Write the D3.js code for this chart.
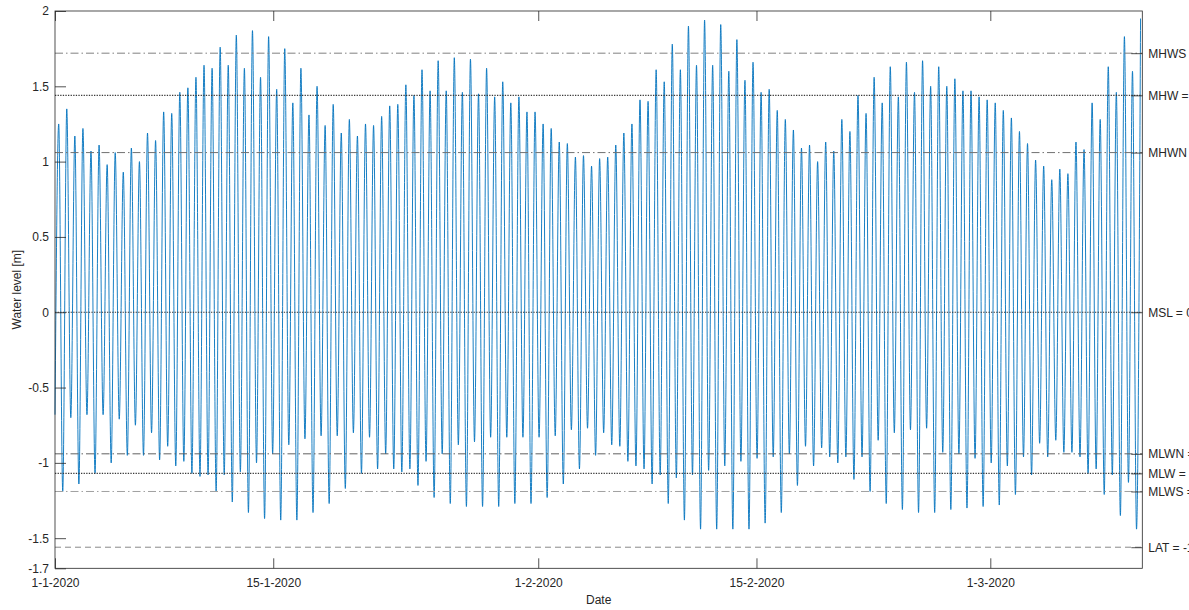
<!DOCTYPE html>
<html>
<head>
<meta charset="utf-8">
<script src="https://cdn.jsdelivr.net/npm/d3@7"></script>
<style>
    body { margin: 0; background: #fff; }
    svg { display: block; font-family: "Liberation Sans", Arial, Helvetica, sans-serif; }
</style>
</head>
<body>
<svg id="chart" width="1189" height="610"></svg>
<script>
// high waters, in order [m]
var highWater = [
    1.25, 1.35, 1.17, 1.22, 1.07, 1.11, 0.98, 1.06, 0.93, 1.09, 1.00, 1.19, 1.14, 1.33, 1.32, 1.46, 1.49,
    1.56, 1.64, 1.62, 1.76, 1.64, 1.84, 1.62, 1.87, 1.56, 1.83, 1.48, 1.75, 1.39, 1.62, 1.31, 1.50, 1.24,
    1.38, 1.19, 1.28, 1.17, 1.25, 1.24, 1.30, 1.37, 1.38, 1.51, 1.44, 1.61, 1.47, 1.67, 1.47, 1.69, 1.46,
    1.68, 1.45, 1.62, 1.43, 1.53, 1.39, 1.43, 1.33, 1.33, 1.25, 1.22, 1.13, 1.12, 1.03, 1.04, 0.97,
    1.02, 1.03, 1.11, 1.19, 1.25, 1.41, 1.40, 1.61, 1.53, 1.78, 1.61, 1.90, 1.64, 1.94, 1.64, 1.91, 1.60,
    1.81, 1.54, 1.66, 1.46, 1.48, 1.34, 1.28, 1.21, 1.09, 1.11, 1.00, 1.13, 1.07, 1.28, 1.20, 1.44,
    1.32, 1.56, 1.39, 1.63, 1.43, 1.66, 1.46, 1.67, 1.50, 1.63, 1.50, 1.55, 1.47, 1.47, 1.43, 1.41, 1.39,
    1.34, 1.29, 1.20, 1.12, 1.01, 0.97, 0.88, 0.95, 0.92, 1.13, 1.08, 1.39, 1.28, 1.63, 1.46, 1.83, 1.60, 1.95
];

// low waters: first value is the start of the record, then one after each high water [m]
var lowWater = [
    -0.68,
    -1.19, -0.70, -1.14, -0.68, -1.07, -0.68, -1.00, -0.71, -0.95, -0.75, -0.95, -0.80, -0.98, -0.89, -1.02, -0.99, -1.07,
    -1.09, -1.08, -1.19, -1.08, -1.26, -1.06, -1.33, -1.00, -1.37, -0.94, -1.38, -0.88, -1.38, -0.84, -1.33, -0.82, -1.27,
    -0.82, -1.17, -0.80, -1.07, -0.83, -1.04, -0.94, -1.04, -1.06, -1.04, -1.15, -0.99, -1.23, -0.94, -1.27, -0.88, -1.29,
    -0.86, -1.29, -0.83, -1.29, -0.83, -1.27, -0.83, -1.27, -0.83, -1.23, -0.82, -1.14, -0.78, -1.04, -0.77, -0.95,
    -0.80, -0.88, -0.89, -0.99, -1.02, -1.04, -1.14, -1.08, -1.27, -1.10, -1.38, -1.08, -1.44, -1.05, -1.44, -1.02, -1.44,
    -0.99, -1.44, -0.97, -1.40, -0.96, -1.33, -0.94, -1.15, -0.89, -1.02, -0.90, -0.96, -1.00, -0.96, -1.11, -0.96,
    -1.19, -0.85, -1.27, -0.80, -1.31, -0.78, -1.33, -0.77, -1.33, -0.93, -1.31, -0.94, -1.30, -0.97, -1.29, -1.00, -1.28,
    -1.02, -1.21, -0.96, -1.08, -0.87, -0.96, -0.85, -0.93, -0.93, -0.96, -1.07, -1.04, -1.21, -1.08, -1.35, -1.13, -1.44
];

var recordStart = new Date(2020, 0, 1);
var recordEnd = new Date(2020, 2, 10, 18);
var firstHighWaterHour = 5.7;
var tidalPeriodHours = 12.43;

// tidal reference levels [m]
var levelNames = ["MHWS", "MHW", "MHWN", "MSL", "MLWN", "MLW", "MLWS", "LAT"];
var levelValues = [1.72, 1.44, 1.06, 0.00, -0.94, -1.07, -1.19, -1.56];

var yTicks = [2, 1.5, 1, 0.5, 0, -0.5, -1, -1.5, -1.7];
var xTicks = [new Date(2020, 0, 1), new Date(2020, 0, 15), new Date(2020, 1, 1), new Date(2020, 1, 15), new Date(2020, 2, 1)];

var levelStyle = {
    MHWS: { dash: "8,3,1.5,3", color: "#808080", width: 1 },
    MHW:  { dash: "1.3,1.3",   color: "#3a3a3a", width: 1.2 },
    MHWN: { dash: "8,3,1.5,3", color: "#707070", width: 1 },
    MSL:  { dash: "1.3,1.3",   color: "#333",    width: 1.2 },
    MLWN: { dash: "8,3,1.5,3", color: "#606060", width: 1 },
    MLW:  { dash: "1.3,1.3",   color: "#3a3a3a", width: 1.2 },
    MLWS: { dash: "8,3,1.5,3", color: "#a0a0a0", width: 1 },
    LAT:  { dash: "6,4",       color: "#888",    width: 1 }
};

var plotLeft = 55, plotRight = 1142.3, plotTop = 11, plotBottom = 568.3;
var axisColor = "#262626";

var svg = d3.select("#chart");

var x = d3.scaleTime().domain([recordStart, recordEnd]).range([plotLeft, plotRight]);
var y = d3.scaleLinear().domain([-1.7, 2]).range([plotBottom, plotTop]);

// build the series: low, high, low, high ...
function hoursAfterStart(h) {
    return new Date(recordStart.getTime() + h * 3600 * 1000);
}
var tide = [{ t: recordStart, v: lowWater[0] }];
highWater.forEach(function (v, i) {
    var hwHour = firstHighWaterHour + i * tidalPeriodHours;
    tide.push({ t: hoursAfterStart(hwHour), v: v });
    if (i + 1 < lowWater.length) {
        tide.push({ t: hoursAfterStart(hwHour + tidalPeriodHours / 2), v: lowWater[i + 1] });
    }
});

var line = d3.line()
    .x(function (d) { return x(d.t); })
    .y(function (d) { return y(d.v); })
    .curve(d3.curveMonotoneX);

svg.append("path")
    .datum(tide)
    .attr("d", line)
    .attr("fill", "none")
    .attr("stroke", "#0072BD")
    .attr("stroke-width", 0.9);

// reference levels
svg.append("g").selectAll("line")
    .data(levelNames)
    .enter().append("line")
    .attr("x1", plotLeft)
    .attr("x2", plotRight)
    .attr("y1", function (d, i) { return y(levelValues[i]); })
    .attr("y2", function (d, i) { return y(levelValues[i]); })
    .attr("stroke", function (d) { return levelStyle[d].color; })
    .attr("stroke-dasharray", function (d) { return levelStyle[d].dash; })
    .attr("stroke-width", function (d) { return levelStyle[d].width; });

// axes, ticks pointing inwards
var fmtDate = d3.timeFormat("%-d-%-m-%Y");

var gx = svg.append("g")
    .attr("transform", "translate(0," + plotBottom + ")")
    .call(d3.axisBottom(x).tickValues(xTicks).tickFormat(fmtDate).tickSizeInner(-10).tickSizeOuter(0).tickPadding(10));

var gxTop = svg.append("g")
    .attr("transform", "translate(0," + plotTop + ")")
    .call(d3.axisTop(x).tickValues(xTicks).tickFormat("").tickSizeInner(-10).tickSizeOuter(0));

var gy = svg.append("g")
    .attr("transform", "translate(" + plotLeft + ",0)")
    .call(d3.axisLeft(y).tickValues(yTicks).tickFormat(function (d) { return String(d); }).tickSizeInner(-11).tickSizeOuter(0).tickPadding(6));

var gyRight = svg.append("g")
    .attr("transform", "translate(" + plotRight + ",0)")
    .call(d3.axisRight(y).tickValues(levelValues)
        .tickFormat(function (d, i) {
            var v = levelValues[i];
            return levelNames[i] + " = " + (v < 0 ? "-" : "") + Math.abs(v).toFixed(2) + " m";
        })
        .tickSizeInner(-11).tickSizeOuter(0).tickPadding(6));

[gx, gxTop, gy, gyRight].forEach(function (g) {
    g.select(".domain").remove();
    g.selectAll("line").attr("stroke", axisColor).attr("stroke-width", 0.8);
    g.selectAll("text").attr("fill", axisColor).style("font-size", "12px");
});

// box
svg.append("rect")
    .attr("x", plotLeft)
    .attr("y", plotTop)
    .attr("width", plotRight - plotLeft)
    .attr("height", plotBottom - plotTop)
    .attr("fill", "none")
    .attr("stroke", axisColor)
    .attr("stroke-width", 0.8);

svg.append("text")
    .attr("x", (plotLeft + plotRight) / 2)
    .attr("y", 604)
    .attr("text-anchor", "middle")
    .attr("fill", axisColor)
    .style("font-size", "12px")
    .text("Date");

svg.append("text")
    .attr("transform", "translate(21," + (plotTop + plotBottom) / 2 + ") rotate(-90)")
    .attr("text-anchor", "middle")
    .attr("fill", axisColor)
    .style("font-size", "12px")
    .text("Water level [m]");
</script>
</body>
</html>
